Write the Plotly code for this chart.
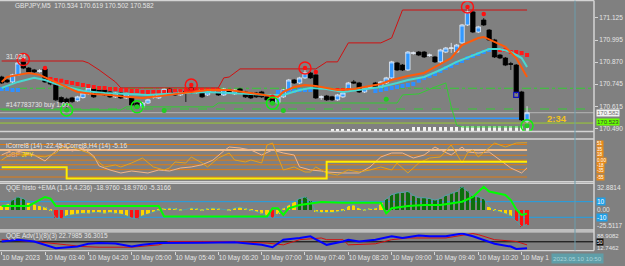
import plotly.graph_objects as go

# ---------------- data ----------------
bars = list(range(98))
tick_bars = [0, 8, 16, 24, 32, 40, 48, 56, 64, 72, 80, 88, 96]
tick_text = ["10 May 2023", "10 May 03:40", "10 May 04:20", "10 May 05:00", "10 May 05:40",
             "10 May 06:20", "10 May 07:00", "10 May 07:40", "10 May 08:20", "10 May 09:00",
             "10 May 09:40", "10 May 10:20", "10 May 1"]

opens = [170.785,170.768,170.757,170.797,170.871,170.836,170.825,170.817,170.830,170.760,
         170.742,170.668,170.660,170.666,170.650,170.668,170.690,170.717,170.711,170.711,
         170.700,170.672,170.694,170.666,170.666,170.637,170.615,170.637,170.670,170.666,
         170.683,170.717,170.700,170.683,170.702,170.723,170.697,170.700,170.683,170.700,
         170.700,170.683,170.711,170.689,170.717,170.700,170.694,170.694,170.700,170.672,
         170.666,170.637,170.672,170.711,170.768,170.751,170.780,170.808,170.797,170.670,
         170.677,170.672,170.655,170.672,170.711,170.757,170.751,170.700,170.727,170.751,
         170.728,170.751,170.780,170.865,170.853,170.825,170.920,170.927,170.927,170.908,
         170.899,170.871,170.927,170.948,170.927,170.979,171.081,171.155,171.041,171.109,
         171.052,170.996,170.910,170.893,170.860,170.853,170.700,170.534]
highs = [170.792,170.774,170.803,170.882,170.899,170.842,170.831,170.830,170.838,170.766,
         170.748,170.675,170.668,170.672,170.678,170.700,170.730,170.724,170.717,170.718,
         170.706,170.700,170.700,170.695,170.672,170.643,170.643,170.661,170.680,170.689,
         170.723,170.723,170.706,170.706,170.710,170.745,170.708,170.706,170.706,170.710,
         170.706,170.723,170.717,170.717,170.723,170.706,170.700,170.700,170.706,170.678,
         170.672,170.678,170.717,170.774,170.774,170.786,170.830,170.814,170.808,170.680,
         170.683,170.678,170.689,170.700,170.757,170.768,170.757,170.729,170.736,170.757,
         170.763,170.786,170.877,170.871,170.859,170.933,170.930,170.933,170.933,170.918,
         170.905,170.945,170.956,170.979,170.973,171.087,171.183,171.161,171.076,171.120,
         171.058,171.002,170.916,170.899,170.871,170.859,170.706,170.619]
lows = [170.745,170.751,170.751,170.791,170.830,170.808,170.808,170.810,170.751,170.738,
        170.648,170.637,170.609,170.638,170.644,170.662,170.684,170.666,170.683,170.677,
        170.666,170.666,170.660,170.660,170.620,170.609,170.609,170.631,170.662,170.660,
        170.677,170.688,170.677,170.677,170.643,170.688,170.690,170.666,170.677,170.694,
        170.677,170.677,170.688,170.683,170.688,170.666,170.660,170.666,170.666,170.649,
        170.626,170.631,170.666,170.705,170.745,170.745,170.774,170.774,170.660,170.655,
        170.649,170.649,170.649,170.666,170.705,170.745,170.694,170.694,170.718,170.722,
        170.722,170.745,170.774,170.819,170.819,170.819,170.912,170.904,170.893,170.900,
        170.865,170.865,170.921,170.922,170.921,170.973,171.075,171.035,171.035,171.075,
        170.990,170.893,170.887,170.847,170.825,170.690,170.535,170.502]
closes = [170.751,170.757,170.797,170.865,170.836,170.814,170.814,170.820,170.757,170.745,
          170.655,170.643,170.637,170.645,170.672,170.694,170.723,170.672,170.689,170.683,
          170.672,170.694,170.666,170.689,170.626,170.615,170.637,170.655,170.672,170.683,
          170.717,170.694,170.683,170.700,170.700,170.694,170.700,170.672,170.700,170.702,
          170.683,170.717,170.694,170.711,170.694,170.672,170.666,170.672,170.672,170.655,
          170.637,170.672,170.711,170.768,170.751,170.780,170.808,170.780,170.666,170.672,
          170.655,170.655,170.683,170.694,170.751,170.751,170.700,170.723,170.728,170.728,
          170.757,170.780,170.871,170.825,170.825,170.927,170.922,170.910,170.899,170.910,
          170.871,170.939,170.950,170.950,170.967,171.081,171.155,171.041,171.070,171.081,
          170.996,170.899,170.893,170.853,170.858,170.700,170.541,170.582]

ema_bars = [0,1,3,5,7,9,12,14,17,20,23,26,28,31,34,38,42,49,51,52,54,56,58,60,62,65,67,70,72,75,
            78,80,83,85,88,89,91,93,95,97]
ema_vals = [170.757,170.785,170.797,170.808,170.797,170.768,170.728,170.700,170.689,170.683,
            170.672,170.666,170.672,170.683,170.694,170.711,170.711,170.683,170.672,170.700,
            170.728,170.740,170.734,170.723,170.711,170.717,170.728,170.745,170.768,170.791,
            170.808,170.842,170.893,170.967,171.007,171.013,170.984,170.956,170.893,170.785]
sma_bars = [0,3,6,8,10,13,15,19,23,27,30,34,38,42,49,52,55,57,60,63,66,70,73,75,78,81,84,88,90,92,
            94,96,97]
sma_vals = [170.723,170.757,170.780,170.768,170.745,170.723,170.706,170.694,170.689,170.683,
            170.689,170.694,170.700,170.694,170.683,170.683,170.711,170.723,170.717,170.700,
            170.711,170.728,170.751,170.768,170.785,170.825,170.871,170.922,170.944,170.944,
            170.927,170.893,170.842]
upper_bars = [0,15,16,18,21,22,40,41,42,44,58,60,62,64,70,72,74,97]
upper_vals = [170.876,170.876,170.865,170.825,170.757,170.723,170.723,170.780,170.785,170.831,
              170.831,170.871,170.871,170.979,170.979,171.007,171.166,171.166]
lower_bars = [0,22,23,39,40,73,74,77,80,82,83,84,85,97]
lower_vals = [170.598,170.598,170.615,170.615,170.637,170.637,170.683,170.689,170.728,170.751,
              170.615,170.512,170.501,170.501]

trail_red_bars = [9,10,11,12,13,14,15,16,17,18,19,20,21,22,23,24,25,26,27,28,29,30,31,32,33,34,35,
                  36,37,38,39,40,62,63,64,92,93,94,95,96,97]
trail_red_vals = [170.774,170.768,170.763,170.757,170.751,170.745,170.740,170.734,170.728,170.723,
                  170.723,170.717,170.717,170.711,170.711,170.706,170.706,170.700,170.700,170.700,
                  170.700,170.700,170.706,170.706,170.706,170.711,170.711,170.711,170.711,170.711,
                  170.711,170.711,170.711,170.711,170.711,170.939,170.939,170.927,170.927,170.922,
                  170.910]
trail_blue_bars = [0,1,2,3,51,52,53,54,55,56,57,69,70,71,72,73,74,75,76,77,78,79,80,81,82,83,84,85,
                   86,87,88,89,90]
trail_blue_vals = [170.717,170.717,170.711,170.711,170.700,170.700,170.706,170.706,170.711,170.711,
                   170.711,170.706,170.711,170.717,170.723,170.728,170.734,170.740,170.745,170.763,
                   170.780,170.791,170.802,170.819,170.836,170.848,170.865,170.876,170.893,170.905,
                   170.916,170.927,170.939]

vol_bars = [61,62,63,64,65,66,67,68,69,70,71,72,73,74,75,76,77,78,79,80,81,82,83,84,85,86,87,88,89,
            90,91,92,93,94,95,96,97]
vol_vals = [0.008,0.008,0.008,0.008,0.008,0.008,0.008,0.008,0.008,0.008,0.008,0.008,0.008,0.008,
            0.008,0.018,0.018,0.018,0.018,0.018,0.018,0.018,0.018,0.018,0.025,0.025,0.025,0.025,
            0.025,0.025,0.025,0.025,0.025,0.025,0.025,0.025,0.025]
vol_base = 170.480

red_circle_bars = [4, 35, 56, 86]
red_circle_prices = [170.885, 170.740, 170.836, 171.183]
red_dot_bars = [4, 8, 35, 50, 56, 58, 86, 89]
red_dot_prices = [170.885, 170.836, 170.740, 170.673, 170.836, 170.814, 171.183, 171.143]
green_circle_bars = [12, 25, 50, 97]
green_circle_prices = [170.598, 170.616, 170.636, 170.507]
green_dot_bars = [12, 25, 50, 97, 30, 52, 71]
green_dot_prices = [170.598, 170.616, 170.636, 170.507, 170.594, 170.594, 170.659]
blue_mark_bars = [95]
blue_mark_prices = [170.683]

order_tp = 170.721
order_open = 170.603
bid_price = 170.582
blue_level = 170.550
olive_level = 170.523
price_ticks = [171.125, 170.995, 170.870, 170.745, 170.615, 170.490]

gold_bars = [0,2,8,10,11,13,16,18,19,21,22,24,26,28,30,31,32,34,35,37,38,40,42,43,45,46,48,49,50,51,
             52,54,56,57,58,60,62,64,66,68,70,72,73,75,77,79,81,83,85,86,87,88,90,91,93,95,97]
gold_vals = [0.5,23.3,10.3,23.3,39.6,42.8,23.3,-6,-22.3,-15.8,-22.3,-9.3,7,-22.3,-32.1,-25.6,-6,-9.3,
             10.3,-9.3,-22.3,7,23.3,0.5,-6,0.5,-9.3,49.4,55.9,10.3,-32.1,-22.3,-38.7,-38.7,-22.3,-41.9,
             -48.4,-32.1,-38.7,-32.1,-22.3,-32.1,-9.3,-41.9,-9.3,7,10.3,49.4,-9.3,23.3,33.1,10.3,42.8,
             55.9,42.8,55.9,56.9]
peach_bars = [0,2,6,8,10,11,13,15,17,18,20,22,24,27,29,31,33,35,37,39,41,42,44,46,48,50,52,54,55,57,
              59,60,63,66,68,70,72,74,76,78,80,81,83,85,86,88,90,92,94,96,97]
peach_vals = [16.8,33.1,16.8,-2.8,29.8,49.4,29.8,39.6,13.5,-19.1,-32.1,-41.9,-35.4,-41.9,-32.1,-35.4,
              -25.6,-22.3,-15,0,30,42.8,39.6,33.1,16.8,33.1,23.3,16.8,-22.3,-32.1,-35.4,-38.7,-41.9,
              -41.9,-22.3,10.3,23.3,23.3,7,16.8,42.8,33.1,16.8,42.8,26.6,23.3,26.6,0.5,-25.6,-41.9,-25]
h4_bars = [0, 12, 60, 97]
h4_vals = [-23, -60, -5.2, -5.2]
corr_levels = [51, 16, 0, -15, -31, -55]
corr_peach_level = 33
corr_labels = ["51", "35", "18", "0.00", "-18", "-35", "-55"]
corr_label_vals = [53, 35, 17, 0, -17, -35, -55]

hist = [5,7,12,16,14,9,7,5,3,-1,
        -11,-12,-8,-7,-6,-5,-5,-4,-4,-5,
        -4,-5,-6,-8,-11,-12,-8,-6,-3,-1,
        1,2,1,-1,0,2,1,-1,1,2,
        1,0,-1,2,3,1,-1,-3,-5,-8,
        -11,-6,2,6,10,14,16,11,-3,-4,
        -4,-4,-3,-2,5,6,2,-1,1,2,
        8,14,19,21,22,23,18,15,15,14,
        12,14,18,21,23,29,24,18,16,14,
        4,-1,-3,-5,-8,-15,-22,-19]
sig_bars = [0,5,8,9,10,29,30,49,50,51,52,53,55,57,59,63,70,71,72,75,78,81,83,85,87,89,90,93,94,95,96,97]
sig_vals = [4.5,4.5,16,14,4.5,4.5,-9,-9,1.5,1.5,-7,1.5,5.8,8,9.5,8.7,8.7,-5,1.5,4.5,5.8,5.8,8,10,16,29,
            23,18.5,12,0,-7,-5.3]
qqe_max, qqe_min = 32.8814, -25.5117

adv_blue_bars = [0,3,6,8,10,14,16,18,21,24,26,29,32,37,43,48,50,52,55,57,58,60,63,64,66,69,72,74,77,79,
                 82,85,87,89,91,94,95,97]
adv_blue_vals = [51.5,58.8,51.5,37.3,23,30,41.6,44.6,43,30,37.3,44.6,46,46,48,37.3,27.4,58.8,66,73,60,
                 37.3,51.5,58.8,51.5,58.8,73,66,76,73,73,84.6,73,58.8,41.6,30,20,22.8]
adv_red_bars = [0,6,12,15,18,24,29,31,37,43,49,52,55,59,60,63,64,69,72,75,82,84,87,88,91,95,97]
adv_red_vals = [58.8,51.5,37.3,30,27.4,27.4,37.3,51.5,51.5,51.5,44.6,37.3,58.8,66,58.8,58.8,37.3,41.6,
                58.8,66,66,73,84.6,80,58.8,51.5,37]
adv_max, adv_min = 88.9082, 12.7462

# ---------------- layout helpers ----------------
BG = '#808080'
TXT = '#e6e6e6'
FONT = 'Liberation Sans'
PH = 251.0   # plot-area height in px
PW = 594.0   # plot-area width in px
XR = [-0.31, 109.36]


def py(px):
    return 1 - px / PH


fig = go.Figure()

# ---- main panel ----
fig.add_trace(go.Bar(x=vol_bars, y=vol_vals, base=vol_base, width=0.55,
                     marker=dict(color='#f4f4f4', line=dict(width=0)), xaxis='x', yaxis='y'))
fig.add_trace(go.Scatter(x=upper_bars, y=upper_vals, mode='lines',
                         line=dict(color='#d01010', width=1), xaxis='x', yaxis='y'))
fig.add_trace(go.Scatter(x=lower_bars, y=lower_vals, mode='lines',
                         line=dict(color='#33cc33', width=1), xaxis='x', yaxis='y'))
fig.add_trace(go.Scatter(x=trail_red_bars, y=trail_red_vals, mode='markers',
                         marker=dict(symbol='square', size=4, color='#ff1a1a'), xaxis='x', yaxis='y'))
fig.add_trace(go.Scatter(x=trail_blue_bars, y=trail_blue_vals, mode='markers',
                         marker=dict(symbol='square', size=4, color='#2f8fff'), xaxis='x', yaxis='y'))
fig.add_trace(go.Scatter(x=sma_bars, y=sma_vals, mode='lines',
                         line=dict(color='#48d8d0', width=2), xaxis='x', yaxis='y'))
fig.add_trace(go.Scatter(x=ema_bars, y=ema_vals, mode='lines',
                         line=dict(color='#ff5a0a', width=2), xaxis='x', yaxis='y'))
fig.add_trace(go.Candlestick(x=bars, open=opens, high=highs, low=lows, close=closes,
                             increasing=dict(fillcolor='#3399ff', line=dict(color='#e8eef6', width=0.8)),
                             decreasing=dict(fillcolor='#000000', line=dict(color='#000000', width=0.8)),
                             whiskerwidth=0, xaxis='x', yaxis='y'))
fig.add_trace(go.Scatter(x=red_circle_bars, y=red_circle_prices, mode='markers',
                         marker=dict(symbol='circle-open', size=12, color='#ff1010',
                                     line=dict(width=1.5, color='#ff1010')), xaxis='x', yaxis='y'))
fig.add_trace(go.Scatter(x=red_dot_bars, y=red_dot_prices, mode='markers',
                         marker=dict(symbol='circle', size=4.5, color='#ff1010'), xaxis='x', yaxis='y'))
fig.add_trace(go.Scatter(x=green_circle_bars, y=green_circle_prices, mode='markers',
                         marker=dict(symbol='circle-open', size=12, color='#10f010',
                                     line=dict(width=1.5, color='#10f010')), xaxis='x', yaxis='y'))
fig.add_trace(go.Scatter(x=green_dot_bars, y=green_dot_prices, mode='markers',
                         marker=dict(symbol='circle', size=5, color='#22cc22'), xaxis='x', yaxis='y'))
fig.add_trace(go.Scatter(x=blue_mark_bars, y=blue_mark_prices, mode='markers',
                         marker=dict(symbol='square-open', size=5, color='#1010c0',
                                     line=dict(width=1.2, color='#1010c0')), xaxis='x', yaxis='y'))

# ---- iCorrel panel ----
fig.add_trace(go.Scatter(x=peach_bars, y=peach_vals, mode='lines',
                         line=dict(color='#f2b488', width=1), xaxis='x2', yaxis='y2'))
fig.add_trace(go.Scatter(x=gold_bars, y=gold_vals, mode='lines',
                         line=dict(color='#e0a020', width=1), xaxis='x2', yaxis='y2'))
fig.add_trace(go.Scatter(x=h4_bars, y=h4_vals, mode='lines', line_shape='hv',
                         line=dict(color='#ffee00', width=2), xaxis='x2', yaxis='y2'))

# ---- QQE histo panel ----
hist_colors = ['#0c6e0c' if v > 10 else ('#ff1010' if v < -10 else '#ffd500') for v in hist]
fig.add_trace(go.Bar(x=bars, y=hist, width=0.62, marker=dict(color=hist_colors, line=dict(width=0)),
                     xaxis='x3', yaxis='y3'))
fig.add_trace(go.Scatter(x=bars, y=hist, mode='lines', line=dict(color='#4fa0a8', width=1),
                         xaxis='x3', yaxis='y3'))
fig.add_trace(go.Scatter(x=sig_bars, y=sig_vals, mode='lines', line=dict(color='#00ff00', width=2),
                         xaxis='x3', yaxis='y3'))

# ---- QQE Adv panel ----
fig.add_trace(go.Scatter(x=adv_red_bars, y=adv_red_vals, mode='lines', line=dict(color='#d01010', width=1),
                         xaxis='x4', yaxis='y4'))
fig.add_trace(go.Scatter(x=adv_blue_bars, y=adv_blue_vals, mode='lines', line=dict(color='#0000ff', width=2),
                         xaxis='x4', yaxis='y4'))

# ---------------- shapes ----------------
shapes = []
def hline(y, yref, color, width=1, dash='solid', x0=XR[0], x1=XR[1]):
    shapes.append(dict(type='line', xref='x', yref=yref, x0=x0, x1=x1, y0=y, y1=y,
                       line=dict(color=color, width=width, dash=dash), layer='below'))

hline(order_tp, 'y', '#33cc33', 1, 'dashdot')
hline(order_open, 'y', '#33cc33', 1, 'dash')
hline(bid_price, 'y', '#b4b4b4', 1)
hline(blue_level, 'y', '#3399ff', 1.5, x1=96)
hline(olive_level, 'y', '#9acd32', 1)
for lv in corr_levels:
    hline(lv, 'y2', '#e07b10', 1, x1=97)
hline(corr_peach_level, 'y2', '#f5c08c', 2, x1=97)
hline(10, 'y3', '#1ea0e8', 1)
hline(-10, 'y3', '#1ea0e8', 1)
hline(50, 'y4', '#000000', 1)

# panel borders / separators
for ypx, w in [(0.6, 1.2), (131.5, 1.5), (139.0, 1.5), (181.8, 1.5), (183.4, 1.2),
               (230.0, 1.5), (231.8, 1.2), (250.6, 1.2)]:
    shapes.append(dict(type='line', xref='paper', yref='paper', x0=0, x1=1, y0=py(ypx), y1=py(ypx),
                       line=dict(color='#d4d4d4', width=w)))
shapes.append(dict(type='line', xref='paper', yref='paper', x0=1, x1=1, y0=py(250.6), y1=py(0.6),
                   line=dict(color='#d4d4d4', width=1.5)))
# chart-shift vertical line
shapes.append(dict(type='line', xref='x', yref='paper', x0=105.85, x1=105.85, y0=py(250.6), y1=py(0.6),
                   line=dict(color='#6c9cac', width=1)))

# ---------------- annotations ----------------
ann = []
def txt(text, xpx, ypx, color=TXT, size=6.5, anchor='left', bold=False):
    ann.append(dict(text=('<b>%s</b>' % text) if bold else text, xref='paper', yref='paper',
                    x=xpx / PW, y=py(ypx), xanchor=anchor, yanchor='middle', showarrow=False,
                    font=dict(family=FONT, size=size, color=color)))

txt('GBPJPY,M5  170.534 170.619 170.502 170.582', 13, 6)
txt('31.024', 4, 56)
txt('#147783730 buy 1.00', 4, 105)
txt('2:34', 557, 118, color='#f2c21c', size=9.5, anchor='center', bold=True)
txt('iCorrel8 (14) -22.45 iCorrel8,H4 (14) -5.16', 4, 145.5)
txt('<span style="color:#f2a870">GBP</span> <span style="color:#ffe600">JPY</span>', 4, 154.5)
txt('QQE histo +EMA (1,14,4.236) -18.9760 -18.9760 -5.3166', 4, 188)
txt('QQE Adv(1)(8)(3) 22.7985 36.3015', 4, 236)

def rlabel(text, y, yref, bg=None, color=TXT, yshift=0, size=6.5):
    d = dict(text=text, xref='paper', x=1, xanchor='left', xshift=2, yref=yref, y=y, yshift=yshift,
             yanchor='middle', showarrow=False, font=dict(family=FONT, size=size, color=color), borderpad=0)
    if bg:
        d['bgcolor'] = bg
    ann.append(d)

rlabel('170.582', bid_price, 'y', bg='#f2f2f2', color='#707070', size=6)
rlabel('170.523', olive_level, 'y', bg='#66ff00', color='#3a3a3a', size=6, yshift=1)
for t, v in zip(corr_labels, corr_label_vals):
    rlabel(t, v, 'y2', bg='#e88a1a', color='#ffffff', size=4.6)
rlabel('32.8814', qqe_max, 'y3', yshift=-3.5)
rlabel('10', 10, 'y3', bg='#1ea0e8', color='#ffffff')
rlabel('0.00', 0, 'y3')
rlabel('-10', -10, 'y3', bg='#1ea0e8', color='#ffffff')
rlabel('-25.5117', qqe_min, 'y3', yshift=4)
rlabel('88.9082', adv_max, 'y4', yshift=-3, size=6)
rlabel('50', 50, 'y4', bg='#101010', color='#ffffff', size=5)
rlabel('12.7462', adv_min, 'y4', yshift=3, size=6)
# cursor time box
ann.append(dict(text='2023.05.10 10:50', xref='paper', yref='paper', x=577 / PW, y=py(258.5),
                xanchor='center', yanchor='middle', showarrow=False, bgcolor='#5f9ea8', borderpad=1,
                font=dict(family=FONT, size=6.2, color='#a8d4d8')))

# ---------------- axes ----------------
xcommon = dict(range=XR, showgrid=False, zeroline=False, showline=False, automargin=False)
ycommon = dict(showgrid=False, zeroline=False, showline=False, side='right', automargin=False)

fig.update_layout(
    width=625, height=266, margin=dict(l=0, r=31, t=0, b=15, autoexpand=False),
    paper_bgcolor=BG, plot_bgcolor=BG, showlegend=False, bargap=0, boxgap=0.2, boxgroupgap=0,
    font=dict(family=FONT, size=6.5, color=TXT),
    xaxis=dict(**xcommon, anchor='y', showticklabels=False, rangeslider=dict(visible=False)),
    xaxis2=dict(**xcommon, anchor='y2', matches='x', showticklabels=False),
    xaxis3=dict(**xcommon, anchor='y3', matches='x', showticklabels=False),
    xaxis4=dict(**xcommon, anchor='y4', matches='x', tickmode='array', tickvals=tick_bars, ticktext=tick_text,
                tickangle=0, ticks='outside', ticklen=3, tickcolor='#d4d4d4',
                ticklabelposition='outside right',
                tickfont=dict(family=FONT, size=6.5, color=TXT)),
    yaxis=dict(**ycommon, domain=[py(131.5), 1.0], range=[170.475, 171.223], tickmode='array',
               tickvals=price_ticks, ticktext=['%.3f' % v for v in price_ticks], ticks='outside',
               ticklen=3, tickcolor='#d4d4d4', tickfont=dict(family=FONT, size=6.5, color=TXT), anchor='x'),
    yaxis2=dict(**ycommon, domain=[py(181.7), py(140.7)], range=[-70.3, 63.4], showticklabels=False, anchor='x2'),
    yaxis3=dict(**ycommon, domain=[py(229.4), py(183.8)], range=[qqe_min, qqe_max], showticklabels=False,
                anchor='x3'),
    yaxis4=dict(**ycommon, domain=[py(250.7), py(232.5)], range=[adv_min, adv_max], showticklabels=False,
                anchor='x4'),
    shapes=shapes, annotations=ann,
)

fig.write_html('out.html')
